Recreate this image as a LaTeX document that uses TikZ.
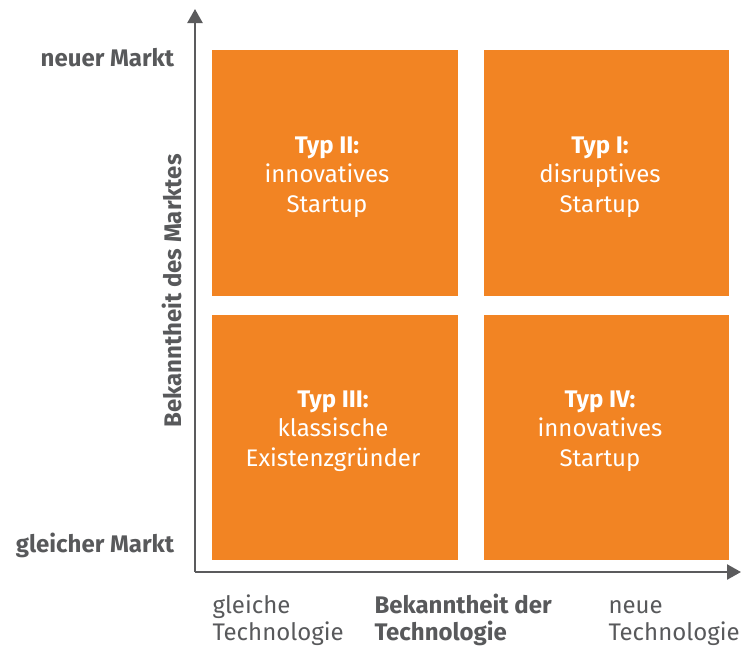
\documentclass[tikz,border=0pt]{standalone}
\usepackage{fontspec}
\setmainfont{Fira Sans}
\usetikzlibrary{arrows.meta}
\definecolor{boxorange}{HTML}{F28423}
\definecolor{axisgray}{HTML}{5B5B5D}
\definecolor{labelgray}{HTML}{58595B}
\begin{document}
\begin{tikzpicture}[x=1pt,y=-1pt,
  quadrant/.style={fill=boxorange,draw=none},
  quadtext/.style={text=white,align=center,anchor=base,font=\fontsize{24}{29.5}\selectfont},
  axislabel/.style={text=labelgray,font=\fontsize{24}{27}\selectfont},
  axisline/.style={draw=axisgray,line width=2.4pt,-{Triangle[length=14pt,width=15pt]}}]
\useasboundingbox (0,0) rectangle (741,649);
% quadrants
\fill[quadrant] (212,50) rectangle (458,296);
\fill[quadrant] (484,50) rectangle (729,296);
\fill[quadrant] (212,315) rectangle (458,560);
\fill[quadrant] (484,315) rectangle (729,560);
% axes
\coordinate (origin) at (195,572);
\coordinate (ytip) at (195,9);
\coordinate (xtip) at (741,572);
\draw[axisline] (origin) -- (ytip);
\draw[axisline] (origin) -- (xtip);
% quadrant texts (anchored at the baseline of the last line)
\node[quadtext] (t2) at (327,212) {\textbf{Typ II:}\\innovatives\\Startup};
\node[quadtext] (t1) at (600,212) {\textbf{Typ I:}\\disruptives\\Startup};
\node[quadtext] (t3) at (333,466) {\textbf{Typ III:}\\klassische\\Existenzgründer};
\node[quadtext] (t4) at (600,466) {\textbf{Typ IV:}\\innovatives\\Startup};
% y axis labels
\node[axislabel,anchor=base east] (ny) at (178,66) {\textbf{neuer Markt}};
\node[axislabel,anchor=base east] (gy) at (178,552) {\textbf{gleicher Markt}};
\node[axislabel,rotate=90] (ly) at (172,291) {\textbf{Bekanntheit des Marktes}};
% x axis labels
\node[axislabel,anchor=base west,align=left] (gx) at (209,640) {gleiche\\Technologie};
\node[axislabel,anchor=base west,align=left] (lx) at (371,640) {\textbf{Bekanntheit der}\\\textbf{Technologie}};
\node[axislabel,anchor=base west,align=left] (nx) at (605,640) {neue\\Technologie};
\end{tikzpicture}
\end{document}
